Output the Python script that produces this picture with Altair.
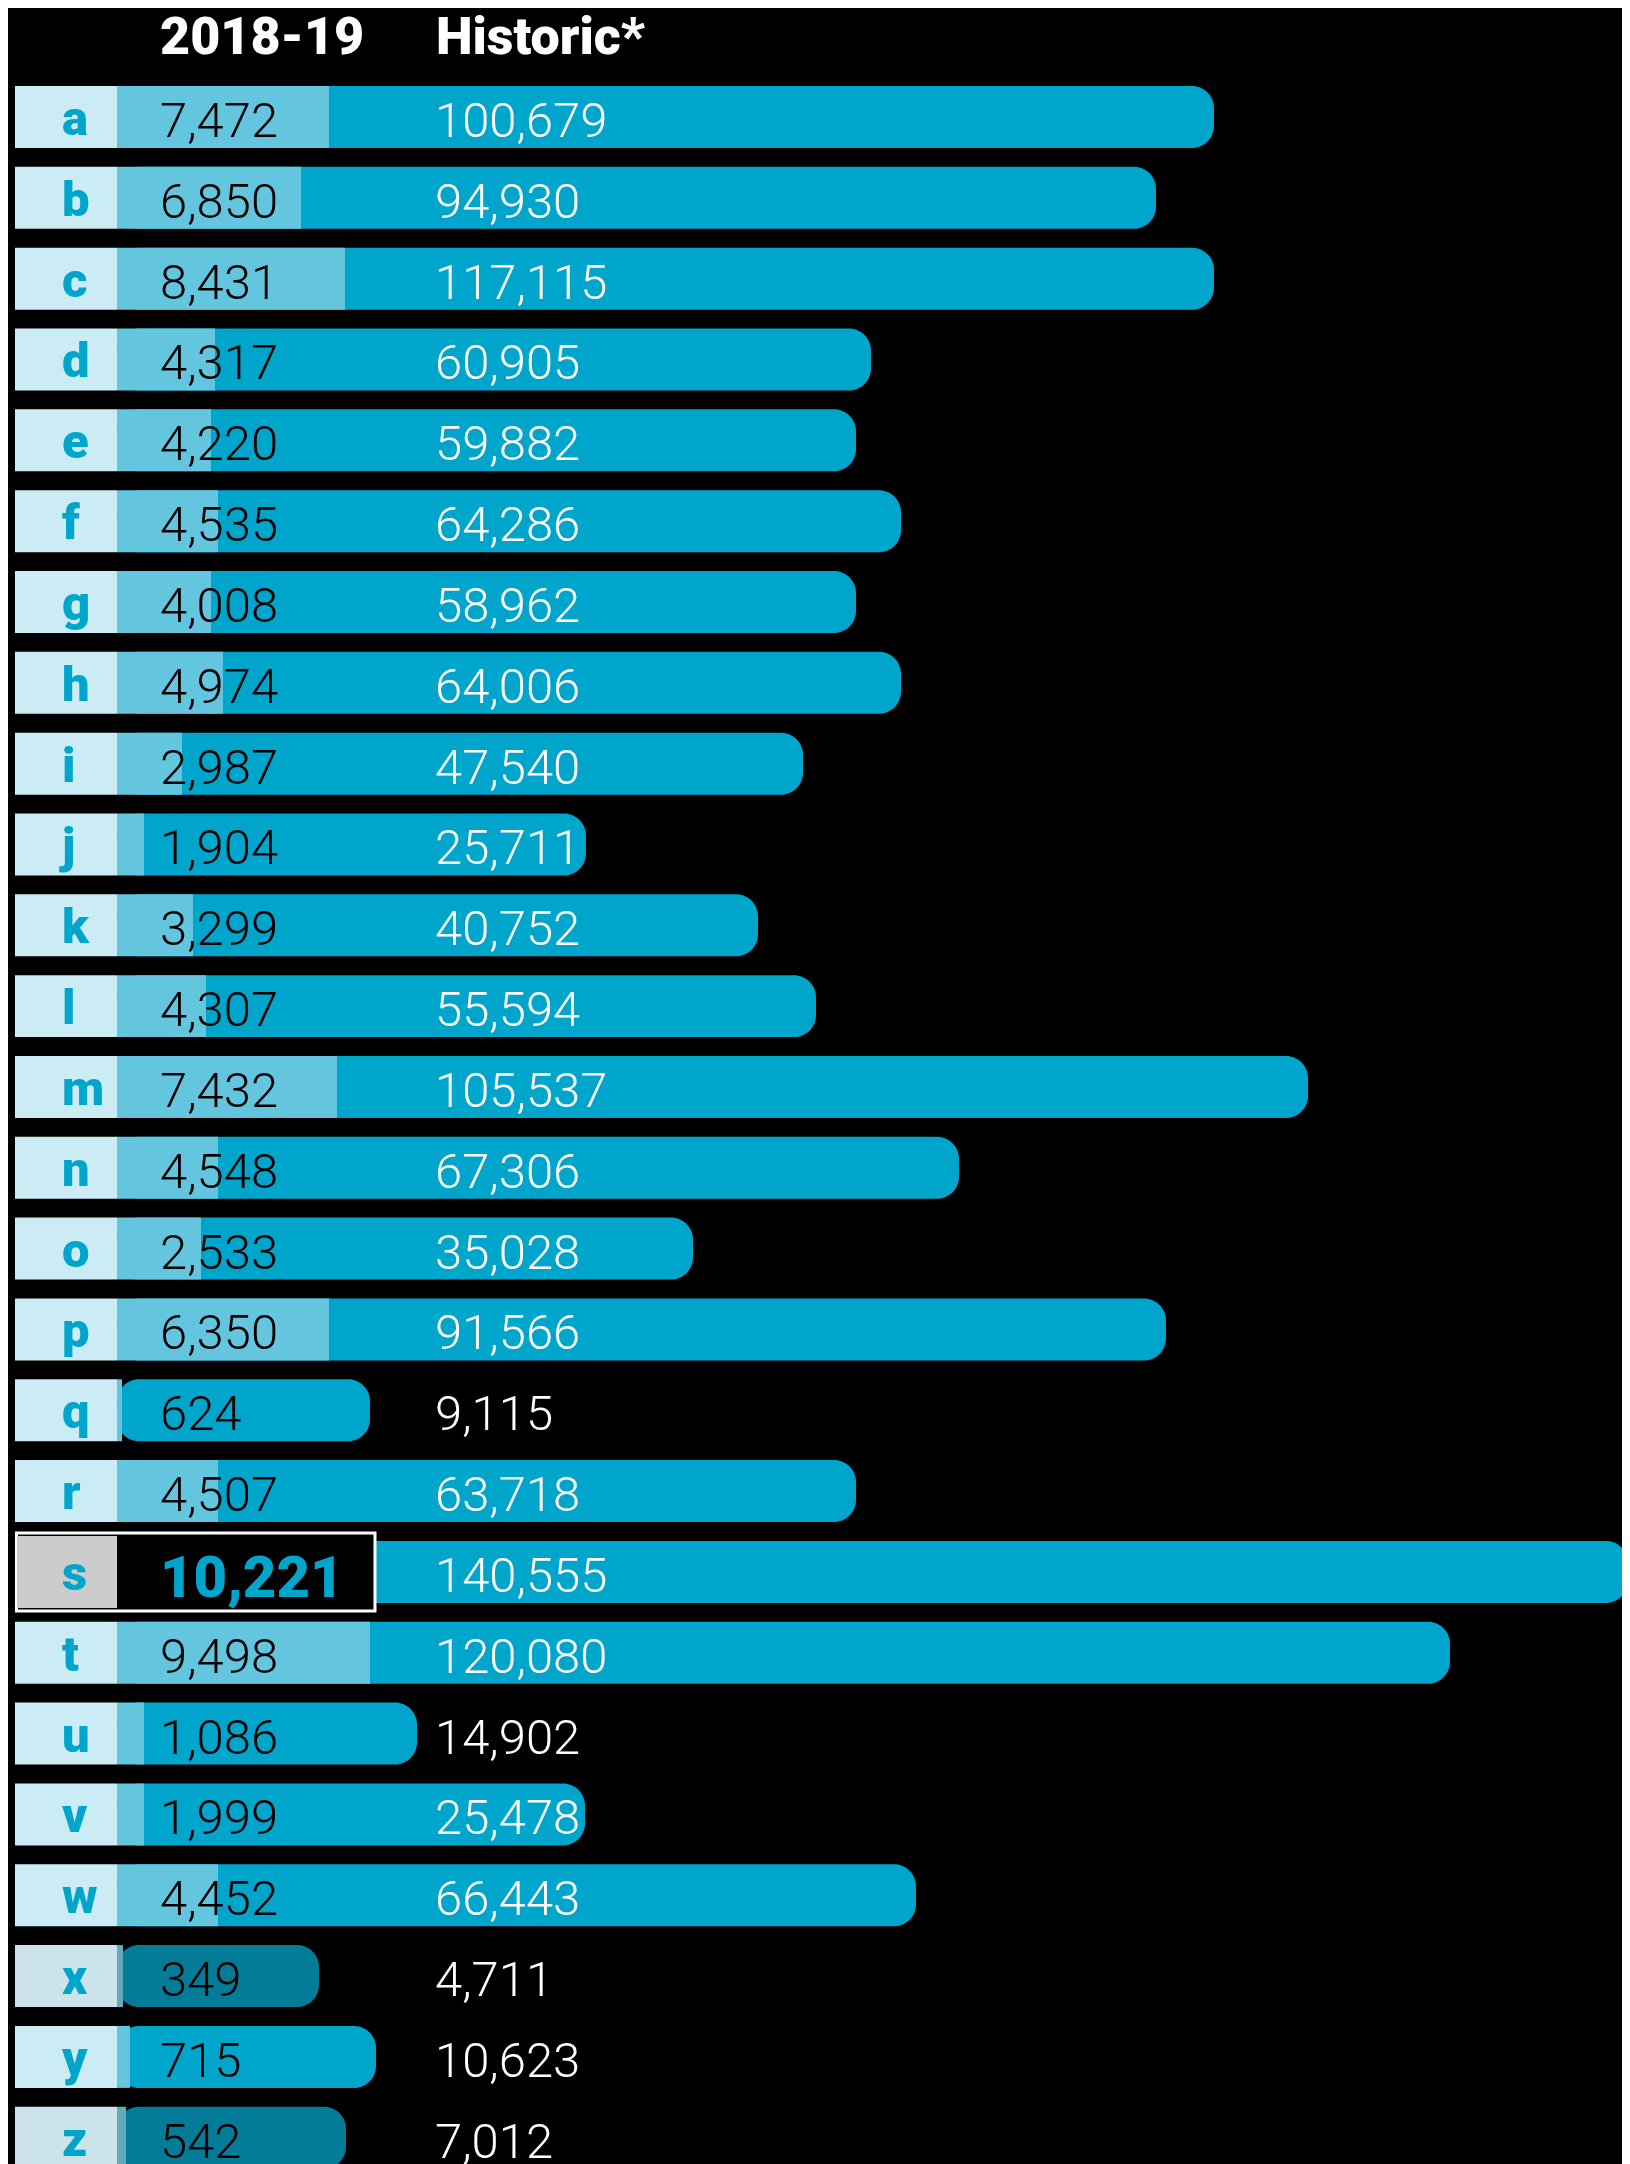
import altair as alt
import pandas as pd

# ---- data ----
letters = list("abcdefghijklmnopqrstuvwxyz")
recent = [7472, 6850, 8431, 4317, 4220, 4535, 4008, 4974, 2987, 1904, 3299, 4307, 7432,
          4548, 2533, 6350, 624, 4507, 10221, 9498, 1086, 1999, 4452, 349, 715, 542]
historic = [100679, 94930, 117115, 60905, 59882, 64286, 58962, 64006, 47540, 25711, 40752,
            55594, 105537, 67306, 35028, 91566, 9115, 63718, 140555, 120080, 14902, 25478,
            66443, 4711, 10623, 7012]
# bar lengths as drawn in the picture (index units on a common bar scale)
hist_drawn = [1097, 1039, 1097, 754, 739, 784, 739, 784, 686, 469, 641, 699, 1191,
              842, 576, 1049, 253, 739, 1511, 1333, 300, 468, 799, 202, 259, 229]
recent_drawn = [212, 184, 228, 98, 94, 101, 94, 106, 65, 27, 76, 89, 220,
                101, 84, 212, 5, 101, 258, 253, 27, 27, 101, 6, 13, 9]
tone = ["dim" if l in ("x", "z") else "bright" for l in letters]
highlight = "s"

df = pd.DataFrame({
    "letter": letters, "recent": recent, "historic": historic,
    "hist_drawn": hist_drawn, "recent_drawn": recent_drawn, "tone": tone,
})

headers = pd.DataFrame({"text": ["2018-19", "Historic*"], "px": [152, 428]})

FONT = "Roboto"
THIN = "Roboto Light, Roboto"
W, H = 1614, 2156

y = alt.Y("letter:N", sort=letters, axis=None,
          scale=alt.Scale(domain=letters, range=[68.58, 2170.16], round=False,
                          paddingInner=0.233, paddingOuter=0.1165))
xscale = alt.Scale(domain=[-109, 1505], range=[0, 1614], zero=False, nice=False)

fill_scale = alt.Scale(domain=["bright", "dim", "b2", "d2", "cb", "cd"],
                       range=["#00a5cb", "#047b97", "#63c5de", "#63aabd", "#cbecf4", "#cde3ea"])

base = alt.Chart(df)

cells = base.transform_calculate(
    lo="-102", hi="0", t="datum.tone == 'dim' ? 'cd' : 'cb'").mark_bar().encode(
    x=alt.X("lo:Q", scale=xscale, axis=None), x2="hi:Q", y=y,
    fill=alt.Color("t:N", legend=None, scale=fill_scale),
)

hist_bars = base.transform_calculate(z="0").mark_bar(cornerRadiusEnd=22).encode(
    x=alt.X("z:Q", scale=xscale, axis=None), x2="hist_drawn:Q", y=y,
    fill=alt.Color("tone:N", legend=None, scale=fill_scale),
)

light = base.transform_filter(alt.datum.letter != highlight).transform_calculate(
    z="0", t="datum.tone == 'dim' ? 'd2' : 'b2'").mark_bar().encode(
    x=alt.X("z:Q", scale=xscale, axis=None), x2="recent_drawn:Q", y=y,
    fill=alt.Color("t:N", legend=None, scale=fill_scale),
)

box = base.transform_filter(alt.datum.letter == highlight).transform_calculate(
    lo="-100.5").mark_bar(height=78, fill="black", stroke="white", strokeWidth=3).encode(
    x=alt.X("lo:Q", scale=xscale, axis=None), x2="recent_drawn:Q", y=y,
)

grey = base.transform_filter(alt.datum.letter == highlight).transform_calculate(
    lo="-100", hi="0").mark_bar(height=72, fill="#cccccc").encode(
    x=alt.X("lo:Q", scale=xscale, axis=None), x2="hi:Q", y=y,
)

letter_txt = base.mark_text(align="left", baseline="alphabetic", dy=18, font=FONT,
                            fontSize=49, fontWeight=900, color="#00a5cb").encode(
    x=alt.value(54), y=y, text="letter:N",
)

recent_txt = base.transform_filter(alt.datum.letter != highlight).mark_text(
    align="left", baseline="alphabetic", dy=20, font=THIN, fontSize=49,
    fontWeight=300, color="#000000").encode(
    x=alt.value(152), y=y, text=alt.Text("recent:Q", format=","),
)

hl_txt = base.transform_filter(alt.datum.letter == highlight).mark_text(
    align="left", baseline="alphabetic", dy=25, font=FONT, fontSize=58,
    fontWeight=900, color="#00a5cb").encode(
    x=alt.value(152), y=y, text=alt.Text("recent:Q", format=","),
)

hist_txt = base.mark_text(align="left", baseline="alphabetic", dy=20, font=THIN,
                          fontSize=49, fontWeight=300, color="#ffffff").encode(
    x=alt.value(427), y=y, text=alt.Text("historic:Q", format=","),
)

head = alt.Chart(headers).mark_text(align="left", baseline="alphabetic", font=FONT,
                                    fontSize=52, fontWeight=900, color="#ffffff").encode(
    x=alt.X("px:Q", scale=None), y=alt.value(46), text="text:N",
)

chart = alt.layer(cells, hist_bars, light, box, grey, letter_txt, recent_txt, hl_txt,
                  hist_txt, head).properties(
    width=W, height=H, padding=0, background="black",
    autosize=alt.AutoSizeParams(type="none"),
).configure_view(stroke=None)

chart.save("out.html", embed_options={"renderer": "svg", "actions": False})
